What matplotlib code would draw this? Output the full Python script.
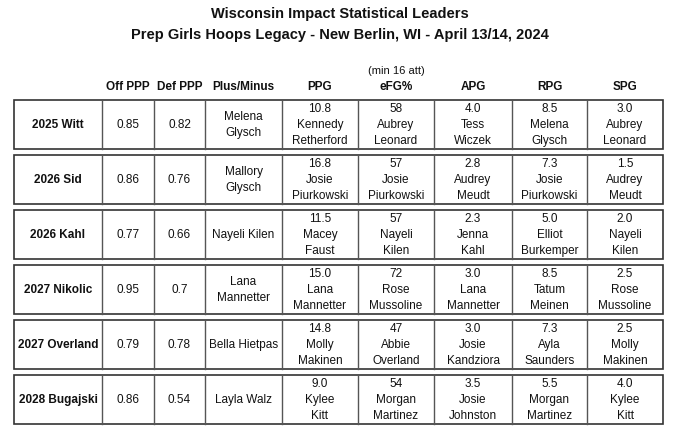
import matplotlib
matplotlib.use("Agg")
import matplotlib.pyplot as plt
from matplotlib.patches import Rectangle

plt.rcParams['font.family'] = ['Liberation Sans Narrow', 'Liberation Sans', 'DejaVu Sans']

title1 = "Wisconsin Impact Statistical Leaders"
title2 = "Prep Girls Hoops Legacy - New Berlin, WI - April 13/14, 2024"

headers = ["", "Off PPP", "Def PPP", "Plus/Minus", "PPG", "eFG%", "APG", "RPG", "SPG"]
subheader = "(min 16 att)"

teams = ["2025 Witt", "2026 Sid", "2026 Kahl", "2027 Nikolic", "2027 Overland", "2028 Bugajski"]
off_ppp = ["0.85", "0.86", "0.77", "0.95", "0.79", "0.86"]
def_ppp = ["0.82", "0.76", "0.66", "0.7", "0.78", "0.54"]
plus_minus = ["Melena\nGlysch", "Mallory\nGlysch", "Nayeli Kilen", "Lana\nMannetter", "Bella Hietpas", "Layla Walz"]

ppg_val = ["10.8", "16.8", "11.5", "15.0", "14.8", "9.0"]
ppg_name = ["Kennedy\nRetherford", "Josie\nPiurkowski", "Macey\nFaust", "Lana\nMannetter", "Molly\nMakinen", "Kylee\nKitt"]
efg_val = ["58", "57", "57", "72", "47", "54"]
efg_name = ["Aubrey\nLeonard", "Josie\nPiurkowski", "Nayeli\nKilen", "Rose\nMussoline", "Abbie\nOverland", "Morgan\nMartinez"]
apg_val = ["4.0", "2.8", "2.3", "3.0", "3.0", "3.5"]
apg_name = ["Tess\nWiczek", "Audrey\nMeudt", "Jenna\nKahl", "Lana\nMannetter", "Josie\nKandziora", "Josie\nJohnston"]
rpg_val = ["8.5", "7.3", "5.0", "8.5", "7.3", "5.5"]
rpg_name = ["Melena\nGlysch", "Josie\nPiurkowski", "Elliot\nBurkemper", "Tatum\nMeinen", "Ayla\nSaunders", "Morgan\nMartinez"]
spg_val = ["3.0", "1.5", "2.0", "2.5", "2.5", "4.0"]
spg_name = ["Aubrey\nLeonard", "Audrey\nMeudt", "Nayeli\nKilen", "Rose\nMussoline", "Molly\nMakinen", "Kylee\nKitt"]

col_edges = [14, 102, 154, 205, 282, 358, 434, 512, 587, 663]
block_top0 = 100
block_h = 49
block_step = 55

fig = plt.figure(figsize=(6.8, 4.37), dpi=100)
ax = fig.add_axes([0, 0, 1, 1])
ax.set_xlim(0, 680)
ax.set_ylim(437, 0)
ax.axis('off')

ax.text(340, 14, title1, ha='center', va='center', fontsize=10.5, fontweight='bold', color='#111111')
ax.text(340, 35, title2, ha='center', va='center', fontsize=10.5, fontweight='bold', color='#111111')

centers = [(col_edges[i] + col_edges[i + 1]) / 2 for i in range(len(col_edges) - 1)]
for c, h in zip(centers, headers):
    if h:
        ax.text(c, 87, h, ha='center', va='center', fontsize=8.5, fontweight='bold', color='#111111')
ax.text(centers[5], 71, subheader, ha='center', va='center', fontsize=8, color='#111111')

line_col = '#333333'
for r, team in enumerate(teams):
    top = block_top0 + r * block_step
    ax.add_patch(Rectangle((col_edges[0], top), col_edges[-1] - col_edges[0], block_h,
                           fill=False, edgecolor=line_col, linewidth=1.2))
    for xe in col_edges[1:-1]:
        ax.plot([xe, xe], [top, top + block_h], color='#555555', linewidth=1.0)
    cy = top + block_h / 2 + 0.5
    ax.text(centers[0], cy, team, ha='center', va='center', fontsize=8.5, fontweight='bold', color='#111111')
    simple = [off_ppp[r], def_ppp[r], plus_minus[r]]
    for j, s in enumerate(simple):
        ax.text(centers[1 + j], cy, s, ha='center', va='center', fontsize=8.5, color='#111111',
                linespacing=1.42)
    stats = [(ppg_val, ppg_name), (efg_val, efg_name), (apg_val, apg_name),
             (rpg_val, rpg_name), (spg_val, spg_name)]
    for j, (vals, names) in enumerate(stats):
        ax.text(centers[4 + j], cy, vals[r] + "\n" + names[r], ha='center', va='center',
                fontsize=8.5, color='#111111', linespacing=1.42)

fig.savefig("out.png", dpi=100, facecolor='white')
